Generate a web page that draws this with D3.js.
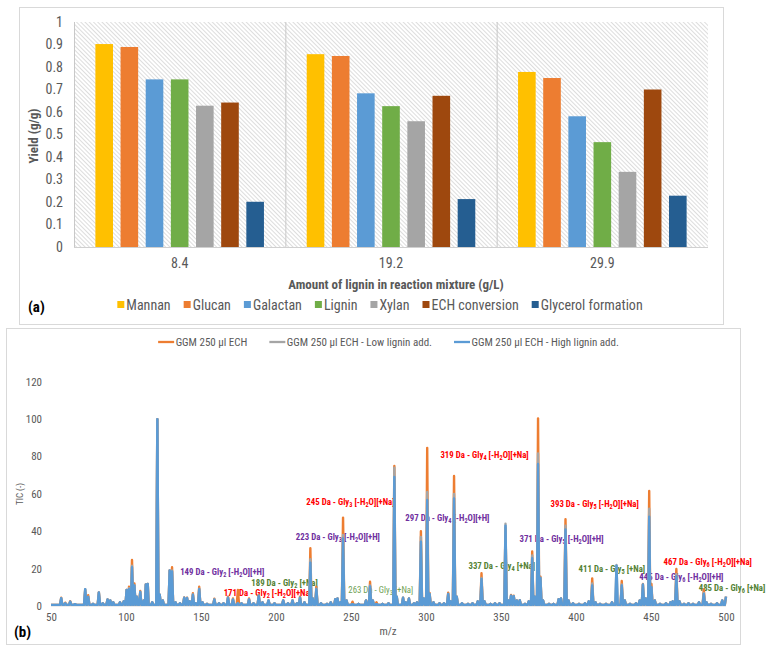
<!DOCTYPE html>
<html><head><meta charset="utf-8">
<script src="https://cdn.jsdelivr.net/npm/d3@7"></script>
<style>body{margin:0;background:#fff} svg{display:block}</style>
</head><body>
<svg id="c" width="766" height="652"></svg>
<script>
// ---------- Panel (a) data ----------
const categories = ["8.4", "19.2", "29.9"];
const seriesNames = ["Mannan", "Glucan", "Galactan", "Lignin", "Xylan", "ECH conversion", "Glycerol formation"];
const mannan = [0.902, 0.857, 0.778];
const glucan = [0.889, 0.849, 0.751];
const galactan = [0.745, 0.683, 0.581];
const lignin = [0.745, 0.626, 0.466];
const xylan = [0.628, 0.559, 0.334];
const echConversion = [0.642, 0.672, 0.700];
const glycerolFormation = [0.201, 0.213, 0.228];
const yTicksA = [0, 0.1, 0.2, 0.3, 0.4, 0.5, 0.6, 0.7, 0.8, 0.9, 1];
const yTickLabelsA = ["0", "0.1", "0.2", "0.3", "0.4", "0.5", "0.6", "0.7", "0.8", "0.9", "1"];

// ---------- Panel (b) data ----------
const peakMz = [
  56.8,59.5,62.8,66,72.8,74.8,78,81.9,84.5,87.7,
  89.5,91.5,96,98.5,100.4,102,104,105.6,107.2,109.5,
  111.8,113.2,114.5,117.5,120.9,122.5,124.5,129.1,130.7,133,
  136,138.8,140.7,142.5,144.6,146.5,148.8,151,154,158.9,
  162,165,168,171.3,174.6,177,182,185,188.5,191,
  195,199,204.8,208,211,214,216,219,222.9,224.5,
  226.9,230,234,236.5,239.5,241,243,244.7,247,251,
  255,260,262.7,264.5,267,271,275,278.9,280.5,284.7,
  286.5,288.6,292,294,296.6,298.5,300.8,302.4,305,309,
  312,314.8,316.5,318.7,320.5,324,328,331,334.5,337,
  339,343,346,349,353,355,356.7,358.5,360.5,362.5,
  366,368.5,370.8,372.5,374.7,376.3,378,382,385,388.4,
  390,393,395,398,402,406,408.5,410.8,413,416,
  420,424,427,430.5,432.5,436,440,442.5,444.6,446.5,
  448.8,450.3,452.5,456,460,463,464.5,466.9,469,472,
  475,478,482,485.2,487,490,494,497.5,500];
const ggmEch = [
  4.5,1.8,2.6,1,8.5,5.8,1.2,7.3,1.5,3.5,
  3,2,2,2.5,8.6,10.3,24.6,12,5,8,
  3,11.5,11.8,2,100,6,3,19,20.7,2,
  1.5,4.6,4.5,2.5,6.8,1.5,10.3,2,1.2,3.9,
  1.5,1.5,5,4,8.6,1.5,4,1.5,6,2,
  3,1.5,3,1.5,3,1.5,5,2,30.9,4,
  10.3,1.5,1.2,2,3.6,4,2,47.3,3,2.3,
  1.2,3,13,3,2,1.2,1.5,74.9,5,4.5,
  2,4,1.5,2,40,4,84.6,7,2,1.5,
  1.5,7.1,2.5,69.6,5,1.5,1.2,1.5,2.5,17.5,
  2.5,1.2,1.5,1.5,42,3,5.9,5.5,3,3.1,
  1.2,2.5,29.2,5,100.4,15.7,3,1.2,1.2,3.6,
  4,46.4,3,1.5,1.2,1.5,2.5,14.8,2,1.2,
  1.2,2,3,13.4,3,1.2,1.5,3,11.8,4,
  61.5,11.8,3,1.2,1.5,2,2.5,19.8,2.5,1.2,
  1.5,1.2,2,8.9,2,1.2,1.5,3,5];
const ggmEchLowLignin = [
  4.2,1.5,2.3,1,9,5,1.2,7.3,1.5,3.5,
  3,2,2,2.5,8.6,9.5,21.5,11,5,7.5,
  3,11.5,11.8,2,100,6,3,19,19,2,
  1.5,4.4,4.3,2.5,6.2,1.5,9.3,2,1.2,3.5,
  1.5,1.5,4.5,3.5,1.5,1.5,3.5,1.5,5.5,2,
  3,1.5,3,1.5,3,1.5,4.5,2,25,4,
  9.3,1.5,1.2,2,3.6,4,2,38,3,1,
  1.2,3,11,3,1,1.2,1.5,74,5,4.5,
  2,4,1.5,2,37,4,61,6.5,2,1.5,
  1.5,6.5,2.5,60,5,1.5,1.2,1.5,2.5,15,
  2.5,1.2,1.5,1.5,44,3,5.5,5.3,3,3.1,
  1.2,2.5,27,5,81.6,15,3,1.2,1.2,3.6,
  4,43,3,1.5,1.2,1.5,2.5,12,2,1.2,
  1.2,2,21.9,11.5,3,1.2,1.5,3,11.5,4,
  52,10,3,1.2,1.5,2,2.5,17,2.5,1.2,
  1.5,1.2,2,7,2,1.2,1.5,3,5];
const ggmEchHighLignin = [
  4.2,1.5,2.3,1,9,4.8,1.2,7.3,1.5,3.5,
  3,2,2,2.5,8.6,9,20.7,11,5,7.5,
  3,11.5,11.8,2,100,6,3,19,18.5,2,
  1.5,4.4,4.3,2.5,6,1.5,9,2,1.2,3.5,
  1.5,1.5,4.5,3.5,1.5,1.5,3.5,1.5,5.5,2,
  3,1.5,3,1.5,3,1.5,4.5,2,23.2,4,
  9,1.5,1.2,2,3.6,4,2,36.2,3,1,
  1.2,3,10.5,3,1,1.2,1.5,69,5,4.5,
  2,4,1.5,2,34.4,4,56.7,6.5,2,1.5,
  1.5,6.5,2.5,57.6,5,1.5,1.2,1.5,2.5,14.5,
  2.5,1.2,1.5,1.5,43,3,5.5,5.3,3,3.1,
  1.2,2.5,25.6,5,76,15,3,1.2,1.2,3.6,
  4,41,3,1.5,1.2,1.5,2.5,11,2,1.2,
  1.2,2,21.5,11,3,1.2,1.5,3,11.5,4,
  47.8,10,3,1.2,1.5,2,2.5,16,2.5,1.2,
  1.5,1.2,2,6.5,2,1.2,1.5,3,5];
const spectrumNames = ["GGM 250 µl ECH", "GGM 250 µl ECH - Low lignin add.", "GGM 250 µl ECH - High lignin add."];
const xTicksB = [50, 100, 150, 200, 250, 300, 350, 400, 450, 500];
const yTicksB = [0, 20, 40, 60, 80, 100, 120];
// annotation texts ("_d" = subscript digit), anchored in data units (m/z, TIC)
const annoTexts = [
  "319 Da - Gly_4 [-H_2O][+Na]", "245 Da - Gly_3 [-H_2O][+Na]", "393 Da - Gly_5 [-H_2O][+Na]",
  "297 Da - Gly_4 [-H_2O][+H]", "223 Da - Gly_3 [-H_2O][+H]", "371 Da - Gly_5 [-H_2O][+H]",
  "467 Da - Gly_6 [-H_2O][+Na]", "337 Da - Gly_4 [+Na]", "149 Da - Gly_2 [-H_2O][+H]",
  "411 Da - Gly_5 [+Na]", "445 Da - Gly_6 [-H_2O][+H]", "189 Da - Gly_2 [+Na]",
  "485 Da - Gly_6 [+Na]", "171 Da - Gly_2 [-H_2O][+Na]", "263 Da - Gly_3 [+Na]"];
const annoMz = [309.6, 220.2, 383, 286.2, 213.2, 362.3, 458.4, 328.3, 136.1, 401.7, 442.2, 183.5, 481.8, 165.1, 248.2];
const annoTic = [81, 55.6, 54.8, 47.4, 37.1, 35.7, 23.7, 21.4, 18.5, 19.8, 15.6, 12.6, 9.6, 6.9, 8.6];
const annoKind = ["na","na","na","h","h","h","na","g","h","g","h","g","g","na","g2"];

// ---------- styles ----------
const FONT = "'Liberation Sans Narrow','Arial Narrow','Roboto Condensed','Liberation Sans',sans-serif";
const barColors = ["#FFC000", "#ED7D31", "#5B9BD5", "#70AD47", "#A5A5A5", "#9E480E", "#255E91"];
const lineColors = ["#ED7D31", "#A5A5A5", "#5B9BD5"];
const annoColors = {na: "#FF0000", h: "#7030A0", g: "#548235", g2: "#6F9F55"};
const txt = "#595959";

const svg = d3.select("#c").style("font-family", FONT);

// pattern
const defs = svg.append("defs");
const pat = defs.append("pattern").attr("id", "hatch").attr("width", 3).attr("height", 3)
  .attr("patternUnits", "userSpaceOnUse").attr("patternTransform", "rotate(45)");
pat.append("rect").attr("width", 3).attr("height", 3).attr("fill", "#ffffff");
pat.append("rect").attr("width", 3).attr("height", 0.9).attr("fill", "#d9d9d9");

// ================= Panel (a) =================
svg.append("rect").attr("x", 19.5).attr("y", 7.5).attr("width", 704).attr("height", 317)
  .attr("fill", "#fff").attr("stroke", "#d9d9d9");

const x0 = d3.scaleBand().domain(categories).range([74, 708]);
const x1 = d3.scaleBand().domain(seriesNames).range([0, x0.bandwidth()]).paddingInner(0.3).paddingOuter(0.85);
const yA = d3.scaleLinear().domain([0, 1]).range([247, 22]);

const gA = svg.append("g");
gA.append("rect").attr("x", 74).attr("y", yA(1)).attr("width", 634).attr("height", yA(0) - yA(1))
  .attr("fill", "url(#hatch)");
// category dividers
gA.selectAll("line.div").data(categories).join("line")
  .attr("x1", d => x0(d) + 0.5).attr("x2", d => x0(d) + 0.5)
  .attr("y1", yA(1)).attr("y2", yA(0))
  .attr("stroke", "#c8c8c8");

const seriesValues = [mannan, glucan, galactan, lignin, xylan, echConversion, glycerolFormation];
const barsData = [];
categories.forEach((c, ci) => seriesNames.forEach((s, si) => barsData.push({c, s, si, v: seriesValues[si][ci]})));
gA.selectAll("rect.bar").data(barsData).join("rect").attr("class", "bar")
  .attr("x", d => x0(d.c) + x1(d.s)).attr("width", x1.bandwidth())
  .attr("y", d => yA(d.v)).attr("height", d => yA(0) - yA(d.v))
  .attr("fill", d => barColors[d.si]);

gA.append("line").attr("x1", 74).attr("x2", 708).attr("y1", yA(0) + 0.5).attr("y2", yA(0) + 0.5)
  .attr("stroke", "#d0d0d0");

const axYA = gA.append("g").attr("transform", "translate(74,0)")
  .call(d3.axisLeft(yA).tickValues(yTicksA).tickFormat((d, i) => yTickLabelsA[i]).tickSize(0).tickPadding(11));
axYA.select(".domain").remove();
axYA.selectAll("text").attr("fill", txt).style("font-size", "14px").style("font-family", FONT);

const axXA = gA.append("g").attr("transform", `translate(0,${yA(0)})`)
  .call(d3.axisBottom(x0).tickSize(0).tickPadding(11));
axXA.select(".domain").remove();
axXA.selectAll("text").attr("fill", txt).style("font-size", "14px").style("font-family", FONT);

gA.append("text").attr("x", 396).attr("y", 289).attr("text-anchor", "middle")
  .attr("font-weight", "bold").attr("font-size", 13).attr("fill", txt)
  .text("Amount of lignin in reaction mixture (g/L)");
gA.append("text").attr("transform", "translate(38,136) rotate(-90)").attr("text-anchor", "middle")
  .attr("font-weight", "bold").attr("font-size", 13).attr("fill", txt).text("Yield (g/g)");
gA.append("text").attr("x", 28).attr("y", 312).attr("font-weight", "bold").attr("font-size", 15)
  .attr("fill", "#000").text("(a)");

// legend (a)
const legA = gA.append("g");
let lx = 0;
seriesNames.forEach((s, i) => {
  const g = legA.append("g").attr("transform", `translate(${lx},0)`);
  g.append("rect").attr("x", 0).attr("y", -4).attr("width", 7).attr("height", 7).attr("fill", barColors[i]);
  const t = g.append("text").attr("x", 9).attr("y", 4.5).attr("font-size", 14).attr("fill", txt).text(s);
  lx += 9 + t.node().getComputedTextLength() + 13;
});
lx -= 13;
legA.attr("transform", `translate(${380 - lx / 2},305)`);

// ================= Panel (b) =================
svg.append("rect").attr("x", 6.5).attr("y", 328.5).attr("width", 734).attr("height", 316)
  .attr("fill", "#fff").attr("stroke", "#d9d9d9");

const xB = d3.scaleLinear().domain([50, 500]).range([51, 726]);
const yB = d3.scaleLinear().domain([0, 120]).range([606, 381.7]);
const gB = svg.append("g");

gB.append("line").attr("x1", xB(50)).attr("x2", xB(500)).attr("y1", yB(0)).attr("y2", yB(0)).attr("stroke", "#d9d9d9");

const axYB = gB.append("g").attr("transform", `translate(${xB(50)},0)`)
  .call(d3.axisLeft(yB).tickValues(yTicksB).tickSize(0).tickPadding(9));
axYB.select(".domain").remove();
axYB.selectAll("text").attr("fill", txt).style("font-size", "11px").style("font-family", FONT);

const axXB = gB.append("g").attr("transform", `translate(0,${yB(0)})`)
  .call(d3.axisBottom(xB).tickValues(xTicksB).tickSize(0).tickPadding(7));
axXB.select(".domain").remove();
axXB.selectAll("text").attr("fill", txt).style("font-size", "11px").style("font-family", FONT);

gB.append("text").attr("x", 388).attr("y", 635).attr("text-anchor", "middle").attr("font-size", 11)
  .attr("fill", txt).text("m/z");
gB.append("text").attr("transform", "translate(23,494) rotate(-90)").attr("text-anchor", "middle")
  .attr("font-size", 9).attr("fill", txt).text("TIC (-)");
gB.append("text").attr("x", 14).attr("y", 637).attr("font-weight", "bold").attr("font-size", 15)
  .attr("fill", "#000").text("(b)");

// annotations (drawn below the spectra)
annoTexts.forEach((s, i) => {
  const t = gB.append("text").attr("x", xB(annoMz[i])).attr("y", yB(annoTic[i]) + 3.2)
    .attr("font-size", 8.8).attr("font-weight", annoKind[i] === "g2" ? "normal" : "bold")
    .attr("fill", annoColors[annoKind[i]]);
  const parts = s.split(/_(\d)/);
  let shift = 0;
  parts.forEach((p, k) => {
    if (k % 2 === 0) {
      if (p) { const ts = t.append("tspan").text(p); if (shift) { ts.attr("dy", -shift); shift = 0; } }
    } else {
      t.append("tspan").attr("font-size", 6.3).attr("dy", 2).text(p);
      shift = 2;
    }
  });
});

// spectra
const baseVal = 0.6;
function buildPoints(vals) {
  const pts = [[50, baseVal]];
  peakMz.forEach((m, i) => {
    const prev = i > 0 ? peakMz[i - 1] : 50;
    const next = i < peakMz.length - 1 ? peakMz[i + 1] : 502;
    const w = Math.min(0.8, (m - prev) / 2 - 0.05, (next - m) / 2 - 0.05);
    pts.push([Math.max(50, m - w), baseVal], [m, vals[i]]);
    if (m + w <= 500) pts.push([m + w, baseVal]);
  });
  return pts;
}
const line = d3.line().x(d => xB(d[0])).y(d => yB(d[1]));
[ggmEch, ggmEchLowLignin, ggmEchHighLignin].forEach((vals, k) => {
  gB.append("path").attr("d", line(buildPoints(vals))).attr("fill", "none")
    .attr("stroke", lineColors[k]).attr("stroke-width", 2.4).attr("stroke-linejoin", "round");
});

// legend (b)
const legB = gB.append("g");
let bx = 0;
spectrumNames.forEach((s, i) => {
  const g = legB.append("g").attr("transform", `translate(${bx},0)`);
  g.append("line").attr("x1", 0).attr("x2", 16).attr("y1", 0).attr("y2", 0).attr("stroke", lineColors[i]).attr("stroke-width", 2.3);
  const t = g.append("text").attr("x", 17.5).attr("y", 4).attr("font-size", 11).attr("fill", txt).text(s);
  bx += 17.5 + t.node().getComputedTextLength() + 22;
});
bx -= 22;
legB.attr("transform", `translate(${388.5 - bx / 2},342)`);
</script>
</body></html>
